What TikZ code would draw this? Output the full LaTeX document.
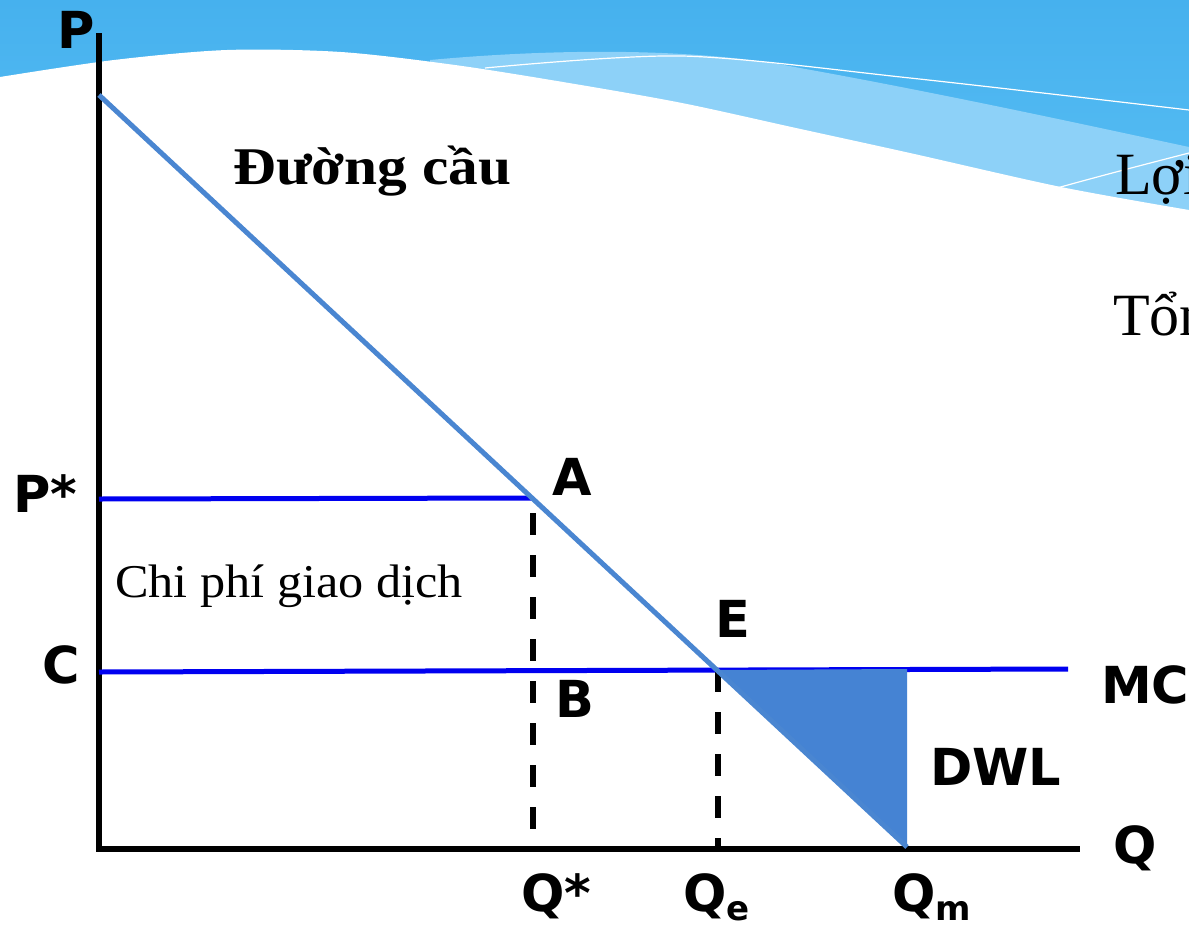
\documentclass[tikz,border=0pt]{standalone}
\usepackage{fontspec}
\setmainfont{Liberation Serif}
\newfontfamily\labfont{DejaVu Sans}
\newfontfamily\titlefont[FakeStretch=1.12]{Liberation Serif}
\newfontfamily\bodyfont[FakeStretch=1.07]{Liberation Serif}
\definecolor{skyA}{HTML}{46B1EE}
\definecolor{skyB}{HTML}{5BC0F5}
\definecolor{bandlight}{HTML}{8DD1F8}
\definecolor{demandblue}{HTML}{4A86D1}
\definecolor{dwlblue}{HTML}{4583D3}
\definecolor{mcblue}{RGB}{0,0,240}
\tikzset{
  axisline/.style={line width=5.5pt, black},
  priceline/.style={line width=5pt, mcblue},
  demandline/.style={line width=5pt, demandblue},
  guideline/.style={line width=6pt, black, dash pattern=on 22pt off 20pt},
  lab/.style={font=\labfont\bfseries\fontsize{51}{60}\selectfont, inner sep=0pt, anchor=base west},
  wavewhite/.style={white, line width=1.2pt}
}
\begin{document}
\begin{tikzpicture}[x=1pt,y=-1pt]
\clip (0,0) rectangle (1189,927);
% background sky and wave
\shade[top color=skyA, bottom color=skyB] (0,0) rectangle (1189,260);
\fill[bandlight] (430,60) .. controls (560,48) and (700,48) .. (800,68)
  .. controls (950,95) and (1100,128) .. (1189,147) -- (1189,260) -- (430,260) -- cycle;
\draw[wavewhite] plot[smooth] coordinates {(485,68) (682,56) (910,78) (1189,110)};
\fill[white] plot[smooth] coordinates {(0,77) (114,60) (227,50) (341,52) (455,65) (569,83) (682,103) (796,128) (910,153) (1061,187) (1189,210)}
  -- (1189,927) -- (0,927) -- cycle;
\draw[wavewhite] (1057,188) .. controls (1100,176) and (1150,163) .. (1189,153);

% key points
\coordinate (Ptop) at (99,33);
\coordinate (Obot) at (99,852);
\coordinate (Oleft) at (96,849);
\coordinate (Qend) at (1080,849);
\coordinate (D0) at (99,95);
\coordinate (A) at (532,498);
\coordinate (Pstart) at (99,499);
\coordinate (Cstart) at (99,672);
\coordinate (MCend) at (1068,669);
\coordinate (E) at (718,670);
\coordinate (T) at (907,669);
\coordinate (Qm) at (907,847);
\coordinate (G1a) at (533,513);
\coordinate (G1b) at (533,834);
\coordinate (G2b) at (718,849);

% axes
\draw[axisline] (Ptop) -- (Obot);
\draw[axisline] (Oleft) -- (Qend);

% price lines
\draw[priceline] (Pstart) -- (A);
\draw[priceline] (Cstart) -- (MCend);

% guides
\draw[guideline] (G1a) -- (G1b);
\draw[guideline] (E) -- (G2b);

% DWL triangle and demand curve
\fill[dwlblue] (E) -- (T) -- (Qm) -- cycle;
\draw[demandline] (D0) -- (Qm);

% labels
\node[lab] (Plab) at (57,48) {P};
\node[lab] (Pstarlab) at (13,512) {P*};
\node[lab] (Clab) at (42,683) {C};
\node[lab] (Alab) at (552,495) {A};
\node[lab] (Elab) at (715,637) {E};
\node[lab] (Blab) at (555,717) {B};
\node[lab] (MClab) at (1101,703) {MC};
\node[lab] (DWLlab) at (930,785) {DWL};
\node[lab] (Qlab) at (1113,863) {Q};
\node[lab] (Qstarlab) at (521,911) {Q*};
\node[lab] (Qelab) at (683,911) {Q\raisebox{-9pt}{\fontsize{34}{40}\selectfont e}};
\node[lab] (Qmlab) at (892,911) {Q\raisebox{-9pt}{\fontsize{34}{40}\selectfont m}};

\node[anchor=base west, inner sep=0pt, font=\titlefont\bfseries\fontsize{53}{60}\selectfont] (dlab) at (233,184) {Đường cầu};
\node[anchor=base west, inner sep=0pt, font=\bodyfont\fontsize{47}{54}\selectfont] (tlab) at (115,597) {Chi phí giao dịch};
\node[anchor=base west, inner sep=0pt, font=\fontsize{60}{66}\selectfont] (loilab) at (1115,194) {Lợi};
\node[anchor=base west, inner sep=0pt, font=\fontsize{60}{66}\selectfont] (tonlab) at (1113,335) {Tổn};
\end{tikzpicture}
\end{document}
